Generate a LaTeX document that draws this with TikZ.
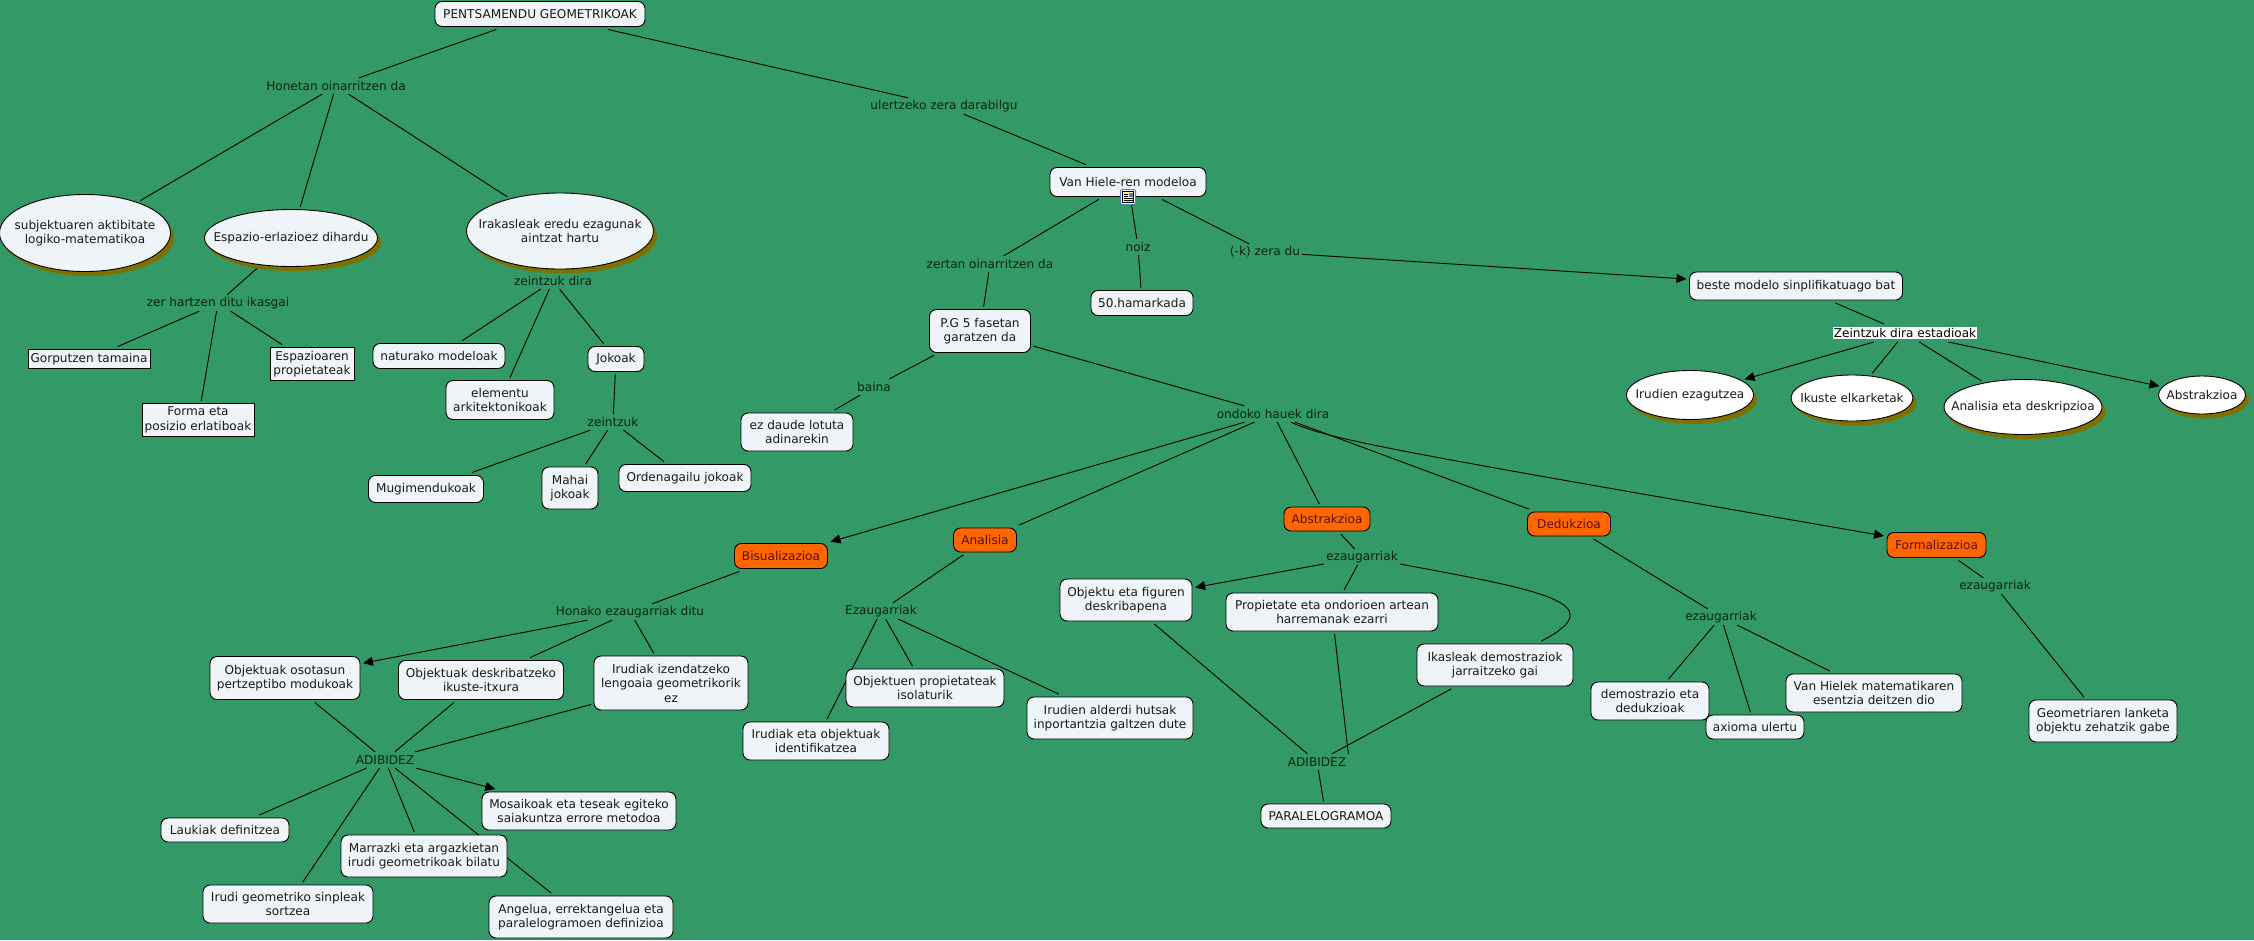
\documentclass[tikz,border=0pt]{standalone}
\usepackage{fontspec}
\setmainfont{DejaVu Sans}
\usetikzlibrary{shapes.geometric, arrows.meta, backgrounds, shadows}
\definecolor{mapgreen}{HTML}{339966}
\definecolor{boxfill}{HTML}{EEF4F7}
\definecolor{hotfill}{HTML}{FF6600}
\definecolor{hotink}{HTML}{5A0F00}
\definecolor{lblink}{HTML}{0A2416}
\definecolor{olivesh}{HTML}{807000}
\definecolor{iconblue}{HTML}{4F86C6}
\definecolor{iconpaper}{HTML}{F6EDB4}

\begin{document}
\begin{tikzpicture}[
  x=1pt, y=-1pt,
  font=\fontsize{12.1}{14.5}\selectfont,
  >={Triangle[length=10pt,width=9pt]},
  wh/.style 2 args={minimum width=#1pt, minimum height=#2pt},
  box/.style={draw, rounded corners=7pt, align=center, fill=boxfill,
              inner sep=0pt, outer sep=3pt, line width=0.9pt, text=black!90},
  hot/.style={box, fill=hotfill, text=hotink},
  sqbox/.style={box, rounded corners=0pt},
  oval/.style={ellipse, draw, align=center, fill=#1, inner sep=-50pt,
               outer sep=3pt, line width=0.9pt, text=black!90,
               drop shadow={shadow xshift=3.5pt, shadow yshift=-4.5pt,
                            fill=olivesh, opacity=1}},
  annot/.style={text=lblink, inner xsep=2pt, inner ysep=0pt, minimum height=16pt},
  link/.style={line width=0.9pt, line cap=round},
  arr/.style={->, line width=0.9pt},
]
\useasboundingbox (0,0) rectangle (2254,940);

%% ---------- Top of the map --------------------------------------
\node[box, wh={210}{25}] (pents) at (540,14) {PENTSAMENDU GEOMETRIKOAK};
\node[annot] (honetan) at (336,86)  {Honetan oinarritzen da};
\node[annot] (ulertz)  at (944,106) {ulertzeko zera darabilgu};

%% ---------- Left branch -----------------------------------------
\node[oval=boxfill, wh={171}{77}] (subj) at (85,233)
      {subjektuaren aktibitate\\logiko-matematikoa};
\node[oval=boxfill, wh={173}{57}] (espaz) at (291,238) {Espazio-erlazioez dihardu};
\node[oval=boxfill, wh={187}{76}] (irak) at (560,231)
      {Irakasleak eredu ezagunak\\aintzat hartu};

\node[annot] (zerhar) at (218,303) {zer hartzen ditu ikasgai};
\node[sqbox, wh={122}{19}] (gorp)  at (89,359)  {Gorputzen tamaina};
\node[sqbox, wh={84}{33}]  (espro) at (312,364) {Espazioaren\\propietateak};
\node[sqbox, wh={112}{33}] (forma) at (198,420) {Forma eta\\posizio erlatiboak};

\node[annot] (zdira) at (553,281) {zeintzuk dira};
\node[box, wh={132}{25}] (natur) at (439,356) {naturako modeloak};
\node[box, wh={108}{39}] (eleme) at (500,400) {elementu\\arkitektonikoak};
\node[box, wh={56}{25}]  (jokoak) at (616,359) {Jokoak};
\node[annot] (zeintz) at (613,422) {zeintzuk};
\node[box, wh={115}{27}] (mugim) at (426,489) {Mugimendukoak};
\node[box, wh={56}{42}]  (mahai) at (570,488) {Mahai\\jokoak};
\node[box, wh={132}{27}] (orden) at (685,478) {Ordenagailu jokoak};

%% ---------- Van Hiele ---------------------------------------------
\node[box, wh={156}{29}] (hiele) at (1128,182) {Van Hiele-ren modeloa};
\node[annot] (zertan) at (990,264)  {zertan oinarritzen da};
\node[annot] (noiz)   at (1138,247) {noiz};
\node[annot] (kzera)  at (1265,252) {(-k) zera du};
\node[box, wh={102}{25}] (hamark) at (1142,303) {50.hamarkada};
\node[box, wh={101}{43}] (pgfase) at (980,331)  {P.G 5 fasetan\\garatzen da};
\node[annot] (baina)  at (874,387)  {baina};
\node[box, wh={112}{38}] (ezdaude) at (797,432) {ez daude lotuta\\adinarekin};
\node[annot] (ondoko) at (1273,414) {ondoko hauek dira};

%% document icon under the Van Hiele box
\node[draw=iconblue, fill=white, rounded corners=2pt, line width=1pt,
      inner sep=0pt, wh={15}{15}] (hicon) at (1128,197) {};
\fill[iconpaper, draw=black, line width=0.7pt] (1122.5,191.5) rectangle (1133.5,202.5);
\fill[iconblue] (1128.5,192.5) rectangle (1132.5,196.5);
\foreach \ly in {194,196,198,200} \draw[line width=0.6pt] (1124,\ly) -- (1127.5,\ly);
\foreach \ly in {198,200} \draw[line width=0.6pt] (1127.5,\ly) -- (1132.5,\ly);

%% ---------- Simplified model ----------------------------------
\node[box, wh={213}{28}] (beste) at (1796,286) {beste modelo sinplifikatuago bat};
\node[annot, text=black, fill=white, inner xsep=1pt, minimum height=12pt, outer sep=3pt]
      (estad) at (1905,333) {Zeintzuk dira estadioak};
\node[oval=white, wh={127}{49}] (ovirud) at (1690,395)  {Irudien ezagutzea};
\node[oval=white, wh={122}{46}] (ovikus) at (1852,398)  {Ikuste elkarketak};
\node[oval=white, wh={158}{55}] (ovanal) at (2023,407)  {Analisia eta deskripzioa};
\node[oval=white, wh={87}{38}]  (ovabst) at (2202,395)  {Abstrakzioa};

%% ---------- Bisualizazioa ---------------------------------------
\node[hot, wh={93}{25}] (bisu) at (781,556) {Bisualizazioa};
\node[annot] (honako) at (630,612) {Honako ezaugarriak ditu};
\node[box, wh={150}{43}] (osot)  at (285,678) {Objektuak osotasun\\pertzeptibo modukoak};
\node[box, wh={165}{39}] (desk)  at (481,680) {Objektuak deskribatzeko\\ikuste-itxura};
\node[box, wh={154}{54}] (izend) at (671,683) {Irudiak izendatzeko\\lengoaia geometrikorik\\ez};
\node[annot] (adibi) at (385,760) {ADIBIDEZ};
\node[box, wh={194}{38}] (mosai) at (579,811) {Mosaikoak eta teseak egiteko\\saiakuntza errore metodoa};
\node[box, wh={128}{24}] (lauki) at (225,830) {Laukiak definitzea};
\node[box, wh={166}{42}] (marra) at (424,856) {Marrazki eta argazkietan\\irudi geometrikoak bilatu};
\node[box, wh={170}{38}] (sinpl) at (288,904) {Irudi geometriko sinpleak\\sortzea};
\node[box, wh={184}{42}] (angel) at (581,917) {Angelua, errektangelua eta\\paralelogramoen definizioa};

%% ---------- Analisia ----------------------------------------------
\node[hot, wh={63}{24}] (anal) at (985,540) {Analisia};
\node[annot] (ezaan) at (881,611) {Ezaugarriak};
\node[box, wh={158}{38}] (ezob) at (925,688)  {Objektuen propietateak\\isolaturik};
\node[box, wh={146}{38}] (ezir) at (816,741)  {Irudiak eta objektuak\\identifikatzea};
\node[box, wh={166}{42}] (ezal) at (1110,718) {Irudien alderdi hutsak\\inportantzia galtzen dute};

%% ---------- Abstrakzioa -------------------------------------------
\node[hot, wh={86}{24}] (abst) at (1327,519) {Abstrakzioa};
\node[annot] (ezabs) at (1362,557) {ezaugarriak};
\node[box, wh={132}{42}] (abfig)  at (1126,600) {Objektu eta figuren\\deskribapena};
\node[box, wh={212}{38}] (abprop) at (1332,612) {Propietate eta ondorioen artean\\harremanak ezarri};
\node[box, wh={156}{42}] (abikas) at (1495,665) {Ikasleak demostraziok\\jarraitzeko gai};
\node[annot] (adibab) at (1317,762) {ADIBIDEZ};
\node[box, wh={130}{24}] (paral) at (1326,816) {PARALELOGRAMOA};

%% ---------- Dedukzioa / Formalizazioa -----------------------------
\node[hot, wh={83}{24}] (dedu) at (1569,524) {Dedukzioa};
\node[annot] (ezded) at (1721,617) {ezaugarriak};
\node[box, wh={118}{38}] (dedem) at (1650,701) {demostrazio eta\\dedukzioak};
\node[box, wh={98}{24}]  (deaxi) at (1755,727) {axioma ulertu};
\node[box, wh={176}{38}] (devan) at (1874,693) {Van Hielek matematikaren\\esentzia deitzen dio};
\node[hot, wh={99}{25}] (form) at (1936.5,545) {Formalizazioa};
\node[annot] (ezfor) at (1995,586) {ezaugarriak};
\node[box, wh={148}{42}] (fogeo) at (2103,721) {Geometriaren lanketa\\objektu zehatzik gabe};

%% ---- Links, kept under the boxes ------------------------------
\begin{scope}[on background layer]
  \fill[mapgreen] (0,0) rectangle (2254,940);
  \draw[link] (pents) -- (honetan);
  \draw[link] (pents) -- (ulertz);
  \draw[link] (ulertz) -- (hiele);
  \draw[link] (honetan) -- (subj);
  \draw[link] (honetan) -- (espaz);
  \draw[link] (honetan) -- (irak);
  \draw[link] (espaz) -- (zerhar);
  \draw[link] (zerhar) -- (gorp);
  \draw[link] (zerhar) -- (espro);
  \draw[link] (zerhar) -- (forma);
  \draw[link] (irak) -- (zdira);
  \draw[link] (zdira) -- (natur);
  \draw[link] (zdira) -- (eleme);
  \draw[link] (zdira) -- (jokoak);
  \draw[link] (jokoak) -- (zeintz);
  \draw[link] (zeintz) -- (mugim);
  \draw[link] (zeintz) -- (mahai);
  \draw[link] (zeintz) -- (orden);

  \draw[link] (hiele) -- (zertan);
  \draw[link] (hiele) -- (noiz);
  \draw[link] (hiele) -- (kzera);
  \draw[link] (noiz) -- (hamark);
  \draw[link] (zertan) -- (pgfase);
  \draw[link] (pgfase) -- (baina);
  \draw[link] (baina) -- (ezdaude);
  \draw[link] (pgfase) -- (ondoko);
  \draw[arr]  (kzera) -- (beste);

  \draw[link] (beste) -- (estad);
  \draw[arr]  (estad) -- (ovirud);
  \draw[link] (estad) -- (ovikus);
  \draw[link] (estad) -- (ovanal);
  \draw[arr]  (estad) -- (ovabst);

  %% the five levels
  \draw[arr]  (ondoko) -- (bisu);
  \draw[link] (ondoko) -- (anal);
  \draw[link] (ondoko) -- (abst);
  \draw[link] (ondoko) -- (dedu);
  \draw[arr]  (ondoko) .. controls (1330,440) and (1400,452) .. (form);

  \draw[link] (bisu) -- (honako);
  \draw[arr]  (honako) -- (osot);
  \draw[link] (honako) -- (desk);
  \draw[link] (honako) -- (izend);
  \draw[link] (osot) -- (adibi);
  \draw[link] (desk) -- (adibi);
  \draw[link] (izend) -- (adibi);
  \draw[arr]  (adibi) -- (mosai);
  \draw[link] (adibi) -- (lauki);
  \draw[link] (adibi) -- (marra);
  \draw[link] (adibi) -- (sinpl);
  \draw[link] (adibi) -- (angel);

  \draw[link] (anal) -- (ezaan);
  \draw[link] (ezaan) -- (ezob);
  \draw[link] (ezaan) -- (ezir);
  \draw[link] (ezaan) -- (ezal);

  \draw[link] (abst) -- (ezabs);
  \draw[arr]  (ezabs) -- (abfig);
  \draw[link] (ezabs) -- (abprop);
  \draw[link] (ezabs) .. controls (1540,590) and (1615,603) .. (abikas);
  \draw[link] (abfig) -- (adibab);
  \draw[link] (abprop) -- (adibab.north east);
  \draw[link] (abikas) -- (adibab);
  \draw[link] (adibab) -- (paral);

  \draw[link] (dedu) -- (ezded);
  \draw[link] (ezded) -- (dedem);
  \draw[link] (ezded) -- (deaxi);
  \draw[link] (ezded) -- (devan);
  \draw[link] (form) -- (ezfor);
  \draw[link] (ezfor) -- (fogeo);
\end{scope}
\end{tikzpicture}
\end{document}
